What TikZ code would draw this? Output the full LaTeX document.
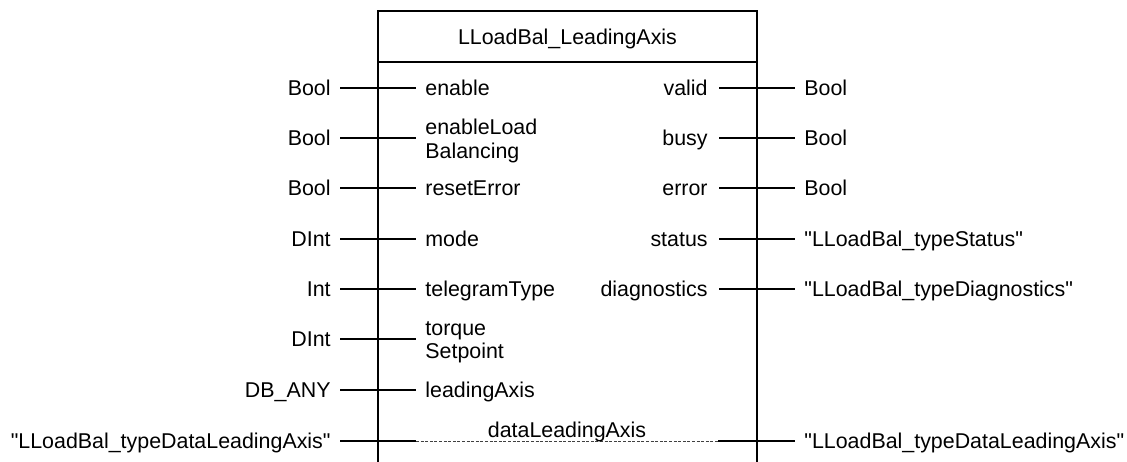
\documentclass[tikz,border=0pt]{standalone}
\usepackage{fontspec}
\setmainfont{Liberation Sans}[Ligatures=TeXOff]
\newcommand\dq{\symbol{34}}
\begin{document}
\begin{tikzpicture}[x=0.5pt,y=-0.5pt,
  every node/.style={font=\fontsize{10.7pt}{11.6pt}\selectfont, inner ysep=0pt},
  lbl/.style={text height=0.716em, text depth=0pt},
  lbltwo/.style={align=left},
  tin/.style={anchor=east, inner xsep=4.5pt},
  pin/.style={anchor=west, inner xsep=4.5pt},
  pout/.style={anchor=east, inner xsep=5.5pt},
  tout/.style={anchor=west, inner xsep=4.5pt},
  wire/.style={line width=1pt},
  frame/.style={line width=1pt},
  thru/.style={line width=0.45pt, draw=black!75, dash pattern=on 1.5pt off 0.8pt}]
\useasboundingbox (0,0) rectangle (1127,461);

% block outline, open towards the bottom
\coordinate (bTL) at (378,11);
\coordinate (bTR) at (757,11);
\coordinate (bBL) at (378,475);
\coordinate (bBR) at (757,475);
\draw[frame] (bBL) -- (bTL) -- (bTR) -- (bBR);
\draw[frame] (378,62) -- (757,62);
\node[lbl] (title) at (567.5,37) {LLoadBal\_LeadingAxis};

% inputs
\node[lbl,tin] (xEnable) at (340,88) {Bool};
\node[lbl,pin] (iEnable) at (416,88) {enable};
\draw[wire] (xEnable) -- (iEnable);

\node[lbl,tin] (xEnLB) at (340,138) {Bool};
\node[lbltwo,pin] (iEnLB) at (416,141) {enableLoad\\Balancing};
\draw[wire] (xEnLB) -- (iEnLB.west |- xEnLB);

\node[lbl,tin] (xReset) at (340,188) {Bool};
\node[lbl,pin] (iReset) at (416,188) {resetError};
\draw[wire] (xReset) -- (iReset);

\node[lbl,tin] (xMode) at (340,239) {DInt};
\node[lbl,pin] (iMode) at (416,239) {mode};
\draw[wire] (xMode) -- (iMode);

\node[lbl,tin] (xTele) at (340,289) {Int};
\node[lbl,pin] (iTele) at (416,289) {telegramType};
\draw[wire] (xTele) -- (iTele);

\node[lbl,tin] (xTorque) at (340,339) {DInt};
\node[lbltwo,pin] (iTorque) at (416,342) {torque\\Setpoint};
\draw[wire] (xTorque) -- (iTorque.west |- xTorque);

\node[lbl,tin] (xLead) at (340,390) {DB\_ANY};
\node[lbl,pin] (iLead) at (416,390) {leadingAxis};
\draw[wire] (xLead) -- (iLead);

% outputs
\node[lbl,pout] (iValid) at (719,88) {valid};
\node[lbl,tout] (xValid) at (795,88) {Bool};
\draw[wire] (iValid) -- (xValid);

\node[lbl,pout] (iBusy) at (719,138) {busy};
\node[lbl,tout] (xBusy) at (795,138) {Bool};
\draw[wire] (iBusy) -- (xBusy);

\node[lbl,pout] (iError) at (719,188) {error};
\node[lbl,tout] (xError) at (795,188) {Bool};
\draw[wire] (iError) -- (xError);

\node[lbl,pout] (iStatus) at (719,239) {status};
\node[lbl,tout] (xStatus) at (795,239) {\dq LLoadBal\_typeStatus\dq};
\draw[wire] (iStatus) -- (xStatus);

\node[lbl,pout] (iDiag) at (719,289) {diagnostics};
\node[lbl,tout] (xDiag) at (795,289) {\dq LLoadBal\_typeDiagnostics\dq};
\draw[wire] (iDiag) -- (xDiag);

% in/out parameter passed through the block
\node[lbl,tin] (xDataIn) at (340,441) {\dq LLoadBal\_typeDataLeadingAxis\dq};
\node[lbl,tout] (xDataOut) at (795,441) {\dq LLoadBal\_typeDataLeadingAxis\dq};
\coordinate (pDataL) at (416,441);
\coordinate (pDataR) at (718,441);
\draw[wire] (xDataIn) -- (pDataL);
\draw[thru] (pDataL) -- (pDataR);
\draw[wire] (pDataR) -- (xDataOut);
\node[anchor=base, inner sep=0pt] (iData) at (567,437) {dataLeadingAxis};
\end{tikzpicture}
\end{document}
